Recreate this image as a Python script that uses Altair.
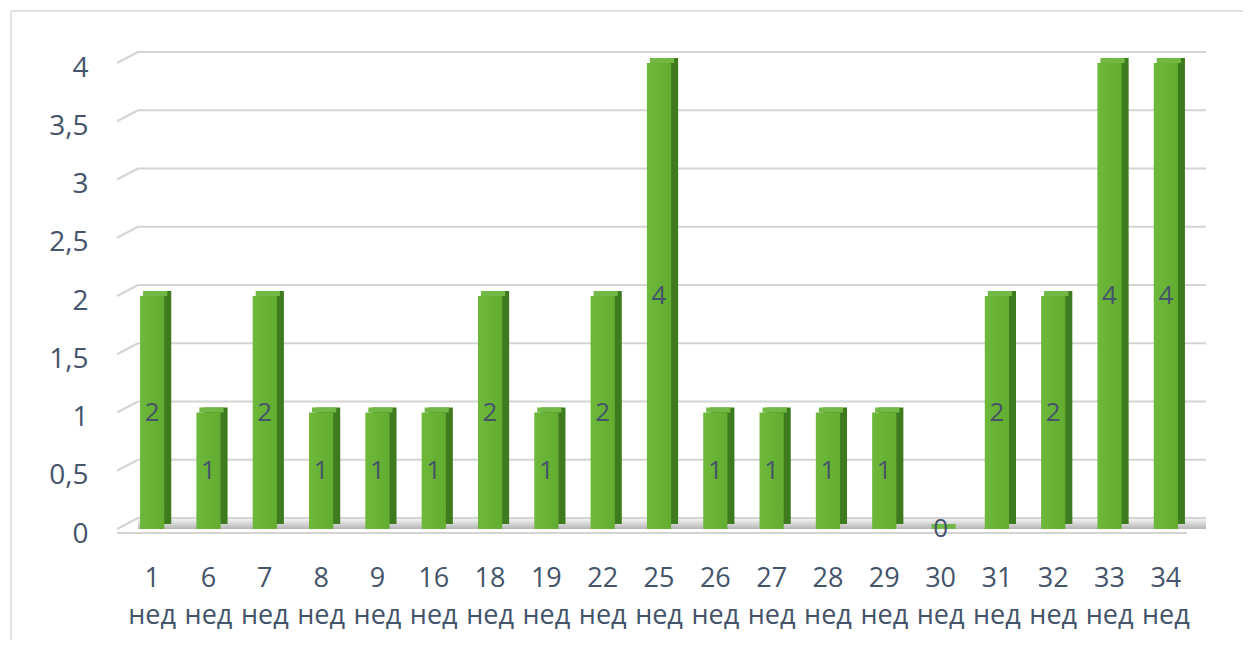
import altair as alt
import pandas as pd

weeks = ["1", "6", "7", "8", "9", "16", "18", "19", "22", "25",
         "26", "27", "28", "29", "30", "31", "32", "33", "34"]
counts = [2, 1, 2, 1, 1, 1, 2, 1, 2, 4, 1, 1, 1, 1, 0, 2, 2, 4, 4]
y_ticks = [0, 0.5, 1, 1.5, 2, 2.5, 3, 3.5, 4]
unit = "нед"

df = pd.DataFrame({"week": [w + " " + unit for w in weeks], "count": counts})
df["mid"] = df["count"] / 2
grid = pd.DataFrame({"v": y_ticks})
floor = pd.DataFrame({"v": [0]})

W, H = 1070, 466
FONT = "Open Sans"
TXT = "#44546A"

xscale = alt.Scale(paddingInner=0.57, paddingOuter=0.285)
yscale = alt.Scale(domain=[0, 4], nice=False, zero=True)

xaxis = alt.Axis(title=None, domain=False, ticks=False, labelAngle=0,
                 labelFont=FONT, labelFontSize=27, labelColor=TXT,
                 labelPadding=36, labelLineHeight=37, labelBaseline="top",
                 labelExpr="split(datum.label, ' ')", zindex=1)
yaxis = alt.Axis(title=None, domain=False, ticks=False, grid=False,
                 values=y_ticks, labelFont=FONT, labelFontSize=28,
                 labelColor=TXT, labelAlign="right", labelPadding=36, labelOffset=5,
                 labelExpr="replace(toString(datum.value), '.', ',')", zindex=1)

X = alt.X("week:N", sort=None, scale=xscale, axis=xaxis)

FL, FT, FR, FB = -113, -52, 1123, 580


def frame_rule(x1, x2, y1, y2):
    return alt.Chart(floor).mark_rule(color="#D9D9D9", strokeWidth=1.5).encode(
        x=alt.value(x1), x2=alt.value(x2), y=alt.value(y1), y2=alt.value(y2))


frame = [frame_rule(FL, FR, FT, FT), frame_rule(FL, FL, FT, FB)]

gridlines = alt.Chart(grid).mark_rule(color="#D4D4D4", strokeWidth=2, yOffset=-11, y2Offset=-11).encode(
    x=alt.value(14), x2=alt.value(W + 12),
    y=alt.Y("v:Q", scale=yscale, axis=yaxis), y2=alt.Y2("v:Q"))

diag = alt.Chart(grid).mark_rule(color="#D4D4D4", strokeWidth=2, y2Offset=-11).encode(
    x=alt.value(-7), x2=alt.value(14),
    y=alt.Y("v:Q", scale=yscale, axis=yaxis), y2=alt.Y2("v:Q"))

shadow = alt.Chart(floor).mark_rect(
    yOffset=-10, y2Offset=0,
    color=alt.Gradient(gradient="linear", x1=0, y1=0, x2=0, y2=1,
                       stops=[alt.GradientStop(color="#F2F2F2", offset=0),
                              alt.GradientStop(color="#B5B5B5", offset=1)])).encode(
    x=alt.value(14), x2=alt.value(W + 12),
    y=alt.Y("v:Q", scale=yscale, axis=yaxis), y2=alt.Y2("v:Q"))

front_edge = alt.Chart(floor).mark_rule(color="#D4D4D4", strokeWidth=2, yOffset=4, y2Offset=4).encode(
    x=alt.value(-7), x2=alt.value(W - 7),
    y=alt.Y("v:Q", scale=yscale, axis=yaxis), y2=alt.Y2("v:Q"))

side = alt.Chart(df).mark_bar(color="#3E7B1F", xOffset=7, yOffset=-5, y2Offset=-5).encode(
    x=X, y=alt.Y("count:Q", scale=yscale, axis=yaxis))

top = alt.Chart(df).mark_bar(color="#72B845", xOffset=3, yOffset=-5, y2Offset=0).encode(
    x=X, y=alt.Y("count:Q", scale=yscale, axis=yaxis), y2=alt.Y2("count:Q"))

front = alt.Chart(df).mark_bar(
    color=alt.Gradient(gradient="linear", x1=0, y1=0, x2=1, y2=0,
                       stops=[alt.GradientStop(color="#6EB83A", offset=0),
                              alt.GradientStop(color="#62AC30", offset=1)])).encode(
    x=X, y=alt.Y("count:Q", scale=yscale, axis=yaxis))

labels = alt.Chart(df).mark_text(font=FONT, fontSize=26, color=TXT, baseline="middle").encode(
    x=X, y=alt.Y("mid:Q", scale=yscale, axis=yaxis), text=alt.Text("count:Q"))

chart = alt.layer(*frame, gridlines, diag, shadow, front_edge, side, top, front, labels).properties(
    width=W, height=H,
    autosize=alt.AutoSizeParams(type="none"),
    padding={"left": 116, "top": 55, "right": 49, "bottom": 111},
    background="white",
).configure_view(stroke=None)

chart.save("out.html", embed_options={"renderer": "svg", "actions": False})
